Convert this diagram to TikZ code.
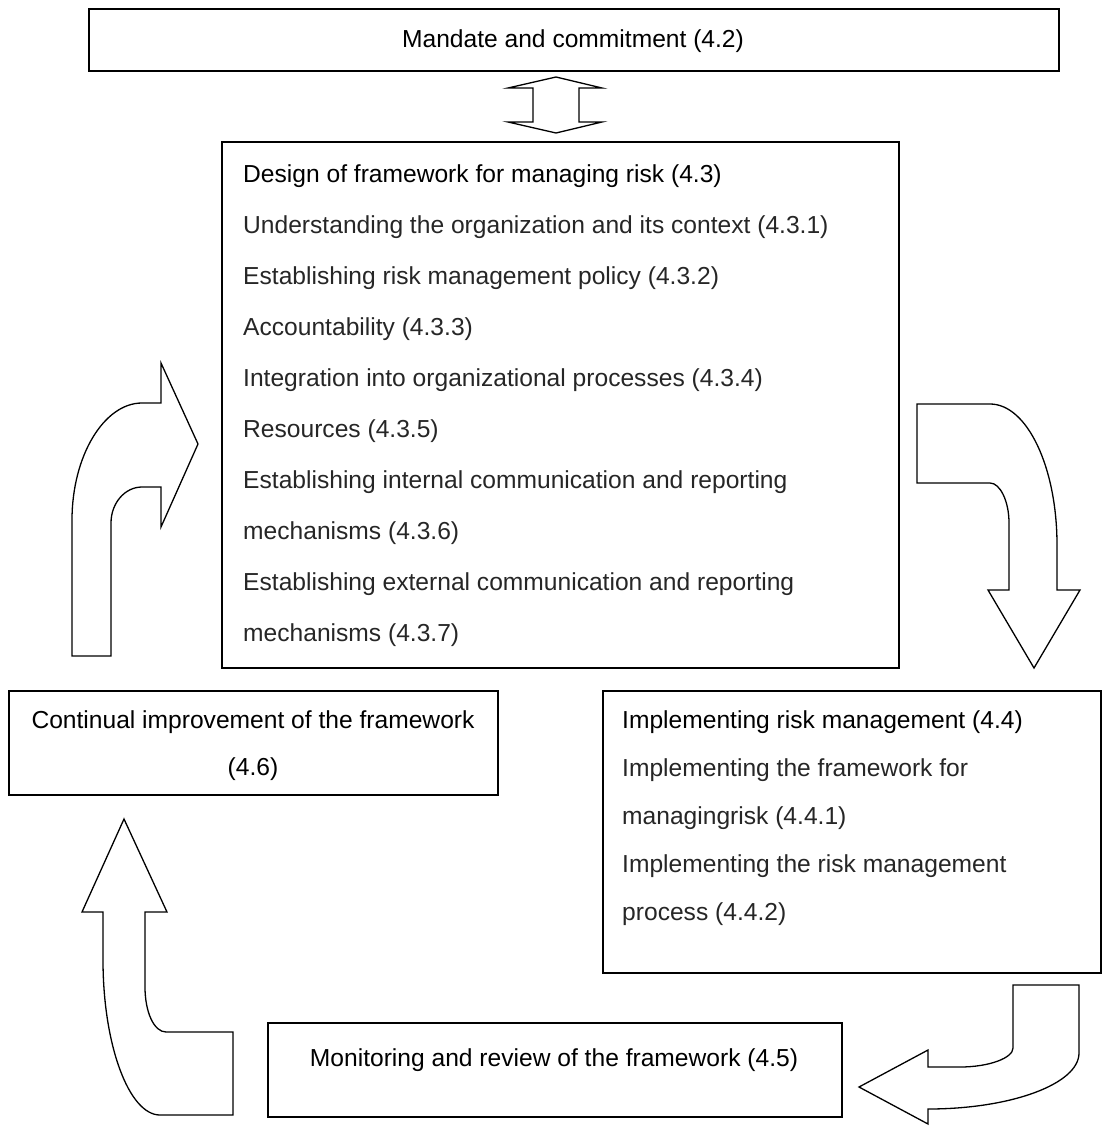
\documentclass[tikz,border=0pt]{standalone}
\usepackage{fontspec}
\setmainfont{Liberation Sans}
\begin{document}
\begin{tikzpicture}[x=1pt,y=-1pt,
  box/.style={draw=black, line width=1.6pt, inner sep=0pt, anchor=north west},
  blockarrow/.style={draw=black, line width=1.3pt, line join=miter, fill=white},
  txt/.style={font=\fontsize{24.6}{29}\selectfont, inner sep=0pt, text=black},
  item/.style={txt, anchor=mid west, text=black!85}]
\useasboundingbox (0,0) rectangle (1105,1126);

% boxes
\node[box, minimum width=970pt, minimum height=62pt] (mandate) at (88,8) {};
\node[box, minimum width=677pt, minimum height=526pt] (design) at (221,141) {};
\node[box, minimum width=489pt, minimum height=104pt] (continual) at (8,690) {};
\node[box, minimum width=498pt, minimum height=282pt] (implement) at (602,690) {};
\node[box, minimum width=574pt, minimum height=94pt] (monitor) at (267,1022) {};

% texts
\node[txt, anchor=mid] (tmandate) at (573,45) {Mandate and commitment (4.2)};

\node[item, text=black] (d0) at (243,179.5) {Design of framework for managing risk (4.3)};
\node[item] (d1) at (243,230.5) {Understanding the organization and its context (4.3.1)};
\node[item] (d2) at (243,281.5) {Establishing risk management policy (4.3.2)};
\node[item] (d3) at (243,332.5) {Accountability (4.3.3)};
\node[item] (d4) at (243,383.5) {Integration into organizational processes (4.3.4)};
\node[item] (d5) at (243,435) {Resources (4.3.5)};
\node[item] (d6) at (243,486) {Establishing internal communication and reporting};
\node[item] (d7) at (243,537) {mechanisms (4.3.6)};
\node[item] (d8) at (243,588) {Establishing external communication and reporting};
\node[item] (d9) at (243,639) {mechanisms (4.3.7)};

\node[txt, anchor=mid] (c0) at (253,726) {Continual improvement of the framework};
\node[txt, anchor=mid] (c1) at (253,773) {(4.6)};

\node[item, text=black] (i0) at (622,725.5) {Implementing risk management (4.4)};
\node[item] (i1) at (622,774) {Implementing the framework for};
\node[item] (i2) at (622,822) {managingrisk (4.4.1)};
\node[item] (i3) at (622,870) {Implementing the risk management};
\node[item] (i4) at (622,918) {process (4.4.2)};

\node[txt, anchor=mid] (m0) at (554,1064) {Monitoring and review of the framework (4.5)};

% double arrow between mandate and design
\draw[blockarrow] (556,77) -- (602,88) -- (579,88) -- (579,122) -- (602,122)
  -- (556,133) -- (508,122) -- (533,122) -- (533,88) -- (508,88) -- cycle;

% left arrow: up then right
\draw[blockarrow] (72,656) -- (72,520) .. controls (72,456) and (104,403) .. (142,403)
  -- (161,403) -- (161,363) -- (198,444) -- (161,527) -- (161,487) -- (142,487)
  .. controls (125,487) and (111,503) .. (111,523) -- (111,656) -- cycle;

% right arrow: right then down
\draw[blockarrow] (917,404) -- (990,404) .. controls (1027,404) and (1057,467) .. (1057,545)
  -- (1057,590) -- (1080,590) -- (1034,668) -- (988,590) -- (1009,590) -- (1009,523)
  .. controls (1009,501) and (1000,483) .. (990,483) -- (917,483) -- cycle;

% bottom right arrow: down then left
\draw[blockarrow] (1013,985) -- (1079,985) -- (1079,1053)
  .. controls (1079,1084) and (1011,1109) .. (928,1109) -- (928,1124) -- (859,1087)
  -- (928,1050) -- (928,1067) -- (960,1067)
  .. controls (989,1067) and (1013,1058) .. (1013,1048) -- cycle;

% bottom left arrow: left then up
\draw[blockarrow] (233,1032) -- (233,1115) -- (160,1115)
  .. controls (129,1115) and (103,1045) .. (103,960) -- (103,912) -- (82,912)
  -- (124,819) -- (167,912) -- (145,912) -- (145,987)
  .. controls (145,1012) and (154,1032) .. (166,1032) -- cycle;
\end{tikzpicture}
\end{document}
